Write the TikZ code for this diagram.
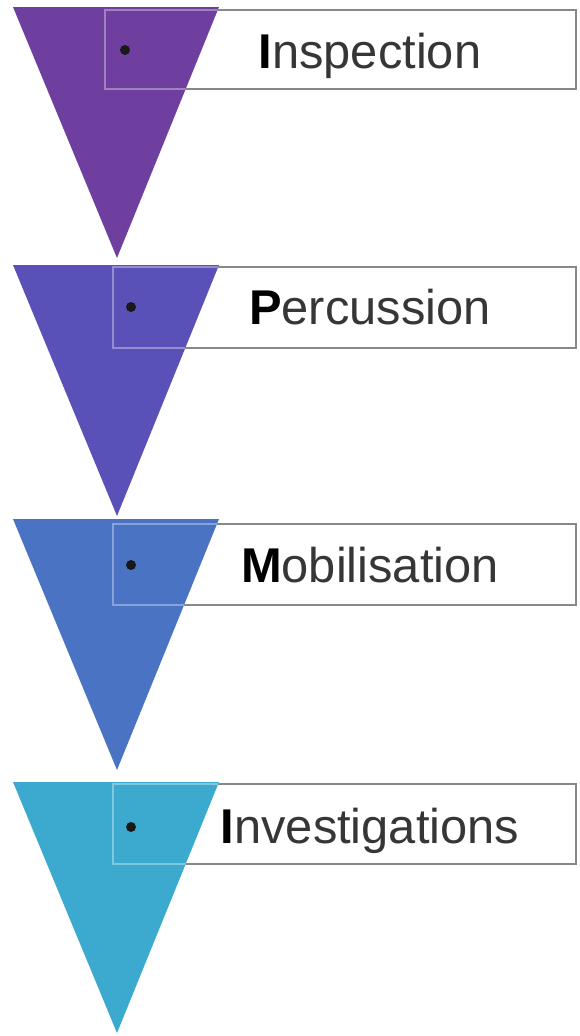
\documentclass[tikz,border=0pt]{standalone}
\usepackage{fontspec}
\setmainfont{Liberation Sans}
\definecolor{boxgray}{HTML}{888888}
\definecolor{textgray}{HTML}{363636}
\definecolor{cA}{HTML}{6E3F9F}
\definecolor{cB}{HTML}{5A51B8}
\definecolor{cC}{HTML}{4A73C4}
\definecolor{cD}{HTML}{3CA9CF}
\begin{document}
\begin{tikzpicture}[x=1bp,y=-1bp,
  boxstyle/.style={fill=white,draw=boxgray,line width=2bp},
  innerline/.style={draw=white,opacity=0.35,line width=2bp},
  lbl/.style={font=\fontsize{49}{55}\selectfont,text=textgray,inner sep=0pt,anchor=base},
  dotstyle/.style={circle,fill=black!90,inner sep=0pt,minimum size=10bp}]
\useasboundingbox (0,0) rectangle (580,1036);
\fill[white] (0,0) rectangle (580,1036);
\foreach \tt/\bt/\bb/\bl/\dx/\dy/\bs/\col/\nm/\first/\rest in {
  7/10/89/105/125/50/68/cA/insp/I/nspection,
  265/267/348/113/131/307/324/cB/perc/P/ercussion,
  519/524/605/113/131/565/582/cC/mobi/M/obilisation,
  782/784/864/113/131/827/843/cD/inve/I/nvestigations}{
  \draw[boxstyle] (\bl,\bt) rectangle (576,\bb);
  \fill[\col] (13,\tt) -- (219,\tt) -- (117,\tt+251) -- cycle;
  \begin{scope}
    \clip (13,\tt) -- (219,\tt) -- (117,\tt+251) -- cycle;
    \draw[innerline] (\bl,\bt) rectangle (576,\bb);
  \end{scope}
  \node[dotstyle] (dot-\nm) at (\dx,\dy) {};
  \node[lbl] (txt-\nm) at (370,\bs) {\textcolor{black}{\textbf{\first}}\rest};
}
\end{tikzpicture}
\end{document}
